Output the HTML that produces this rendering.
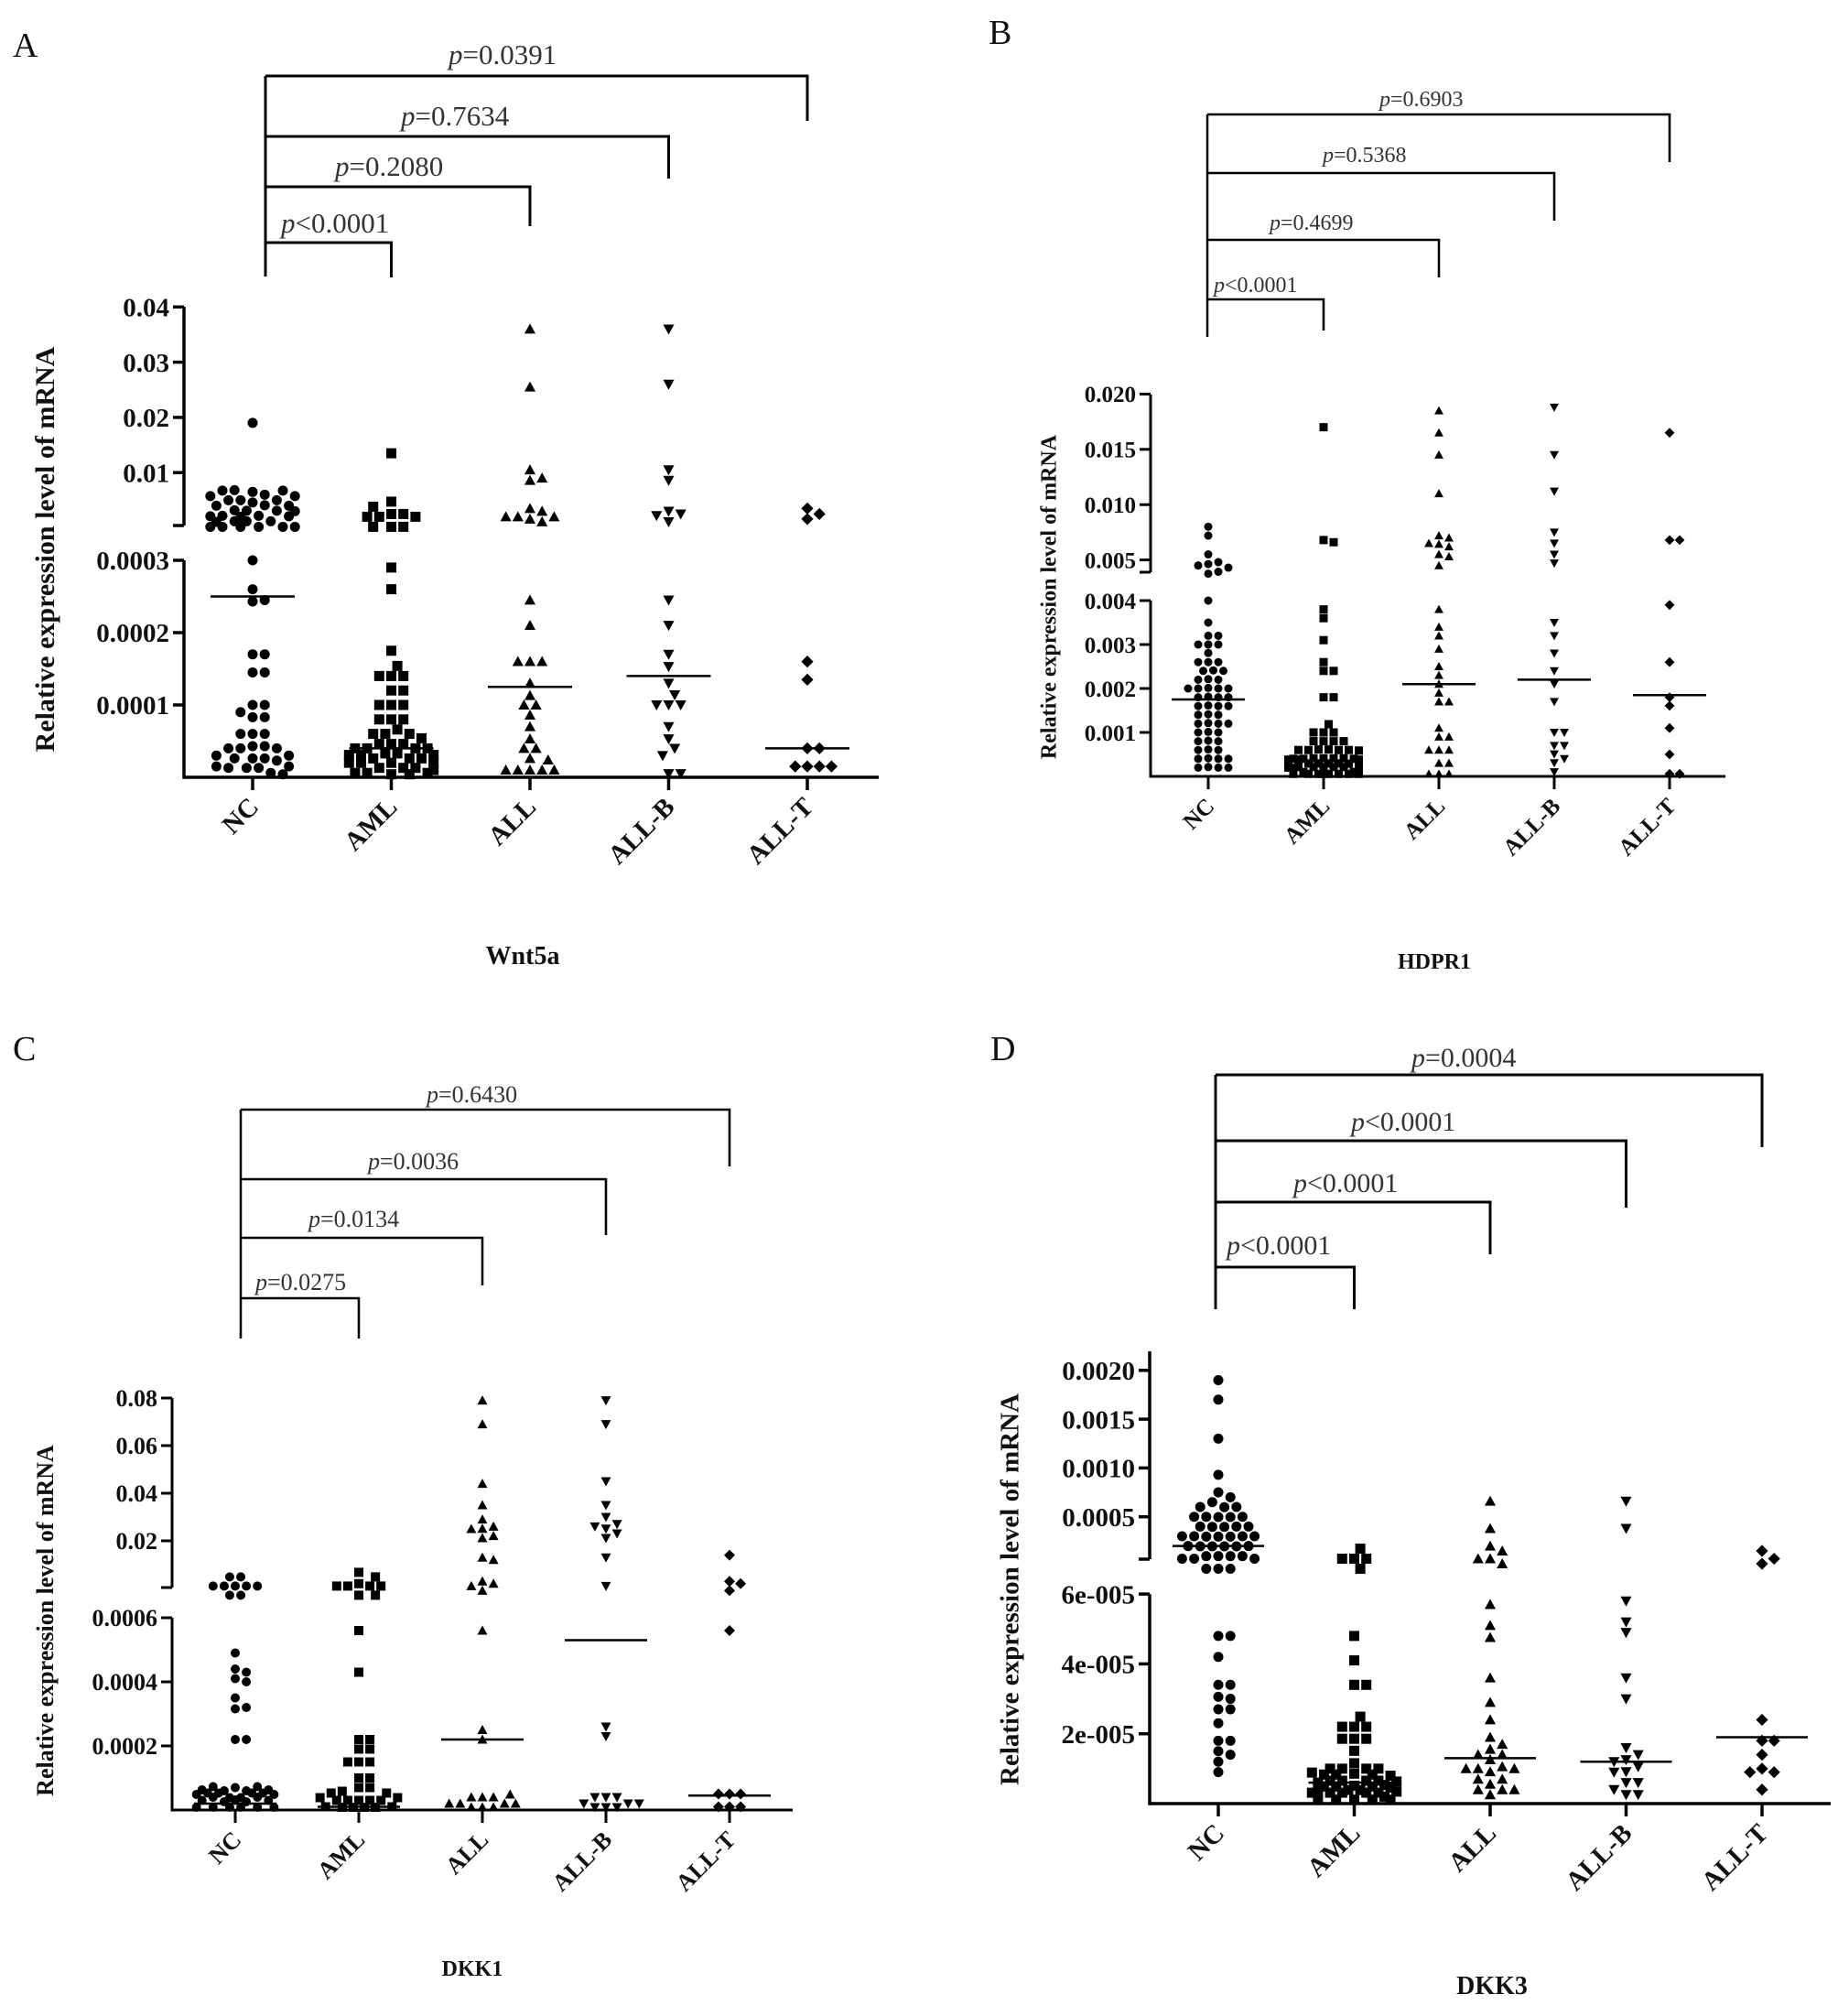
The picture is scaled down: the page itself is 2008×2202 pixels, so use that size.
<!DOCTYPE html>
<html><head><meta charset="utf-8"><title>Expression scatter plots</title>
<style>
html,body{margin:0;padding:0;background:#fff;}
svg{display:block;font-family:"Liberation Serif",serif;}
</style></head>
<body>
<svg id="fig" width="2008" height="2202" viewBox="0 0 2008 2202" xmlns="http://www.w3.org/2000/svg"></svg>
<script>
const categories = ["NC","AML","ALL","ALL-B","ALL-T"];
// Panel A (Wnt5a)
const wntNC = [0.019,0.0065,0.006,0.0055,0.005,0.005,0.005,0.005,0.005,0.005,0.004,0.004,0.004,0.004,0.004,0.004,0.004,0.004,0.003,0.003,0.003,0.003,0.003,0.003,0.003,0.003,0.002,0.002,0.002,0.002,0.002,0.002,0.002,0.002,
  0.0003,0.00026,0.00025,0.000245,0.00017,0.00017,0.000145,0.000145,0.0001,0.0001,0.00009,0.00009,0.00009,0.00006,0.00006,0.00006,0.00005,0.00005,0.00004,0.00004,0.00004,0.00004,0.00004,0.00004,0.00003,0.00003,0.00003,0.00002,0.00002,0.00002,0.00002,0.000015,0.000015,0.000015];
const wntAML = [0.0135,0.0025,0.0025,0.002,0.002,0.002,0.002,0.002,0.002,0.002,0.002,
  0.00029,0.00026,0.000175,0.00014,0.00014,0.00014,0.00014,0.00012,0.00012,0.0001,0.0001,0.0001,0.00008,0.00008,0.00008,0.00008,0.00006,0.00006,0.00006,0.00006,0.00006,0.00006,0.00004,0.00004,0.00004,0.00004,0.00004,0.00004,0.00004,0.00004,0.00004,0.00004,0.00002,0.00002,0.00002,0.00002,0.00002,0.00002,0.00002,0.00002,0.00002,0.00002,0.00001,0.00001,0.00001,0.00001,0.00001,0.00001];
const wntALL = [0.036,0.0255,0.0105,0.0095,0.009,0.0035,0.003,0.0025,0.002,0.002,0.002,0.002,
  0.000245,0.00021,0.00016,0.00016,0.00016,0.00013,0.00012,0.0001,0.0001,0.0001,0.00007,0.00006,0.00004,0.00004,0.00004,0.00001,0.00001,0.00001,0.00001,0.00001,0.00001];
const wntALLB = [0.036,0.026,0.0105,0.0095,0.003,0.0025,0.0022,0.002,
  0.000245,0.00021,0.00017,0.00016,0.00013,0.0001,0.0001,0.0001,0.0001,0.00007,0.00006,0.00004,0.00003,0.000005,0.000005];
const wntALLT = [0.0035,0.0025,0.0025,0.00016,0.000135,0.00004,0.00004,0.000015,0.000015,0.000015,0.000015];
const wntMedians = [0.00025,0.00004,0.000125,0.00014,0.00004];
const wntUpperTicks = [0.01,0.02,0.03,0.04];
const wntUpperLabels = ["0.01","0.02","0.03","0.04"];
const wntLowerTicks = [0.0001,0.0002,0.0003];
const wntLowerLabels = ["0.0001","0.0002","0.0003"];
const wntPvals = ["p<0.0001","p=0.2080","p=0.7634","p=0.0391"];
// Panel B (HDPR1)
const hdNC = [0.008,0.0072,0.0055,0.005,0.0048,0.0045,0.0045,0.0043,0.0043,
  0.004,0.0035,0.0032,0.0032,0.003,0.003,0.003,0.0029,0.0026,0.0026,0.0026,0.0026,0.0024,0.0024,0.0024,0.0022,0.0022,0.0022,0.002,0.002,0.002,0.002,0.002,0.0018,0.0018,0.0018,0.0018,0.0016,0.0016,0.0016,0.0016,0.0014,0.0014,0.0014,0.0012,0.0012,0.0012,0.0012,0.001,0.001,0.001,0.0008,0.0008,0.0008,0.0006,0.0006,0.0006,0.0004,0.0004,0.0004,0.0004,0.0002,0.0002,0.0002];
const hdAML = [0.017,0.0068,0.0066,0.0038,0.0036,0.0031,0.0026,0.0024,0.0024,0.0018,0.0018,0.001,0.001,0.001,0.001,0.0008,0.0008,0.0008,0.0008,0.0008,0.0008,0.0006,0.0006,0.0006,0.0006,0.0006,0.0006,0.0006,0.0006,0.0004,0.0004,0.0004,0.0004,0.0004,0.0004,0.0004,0.0004,0.0004,0.0004,0.0002,0.0002,0.0002,0.0002,0.0002,0.0002,0.0002,0.0002,0.0002,0.0002,0.0002,0.0002,0.0001,0.0001,0.0001,0.0001,0.0001,0.0001,0.0001,0.0001];
const hdALL = [0.0185,0.0165,0.0145,0.011,0.0072,0.007,0.0068,0.0065,0.0062,0.0055,0.0053,0.0045,
  0.0038,0.0034,0.0032,0.0029,0.0025,0.0023,0.0021,0.0019,0.0017,0.0017,0.0011,0.0009,0.0009,0.0006,0.0006,0.0006,0.0003,0.0003,0.00005,0.00005,0.00005];
const hdALLB = [0.0188,0.0145,0.0112,0.0075,0.0065,0.0055,0.0047,
  0.0035,0.0032,0.0028,0.0024,0.0021,0.0017,0.001,0.001,0.0007,0.0007,0.0006,0.0004,0.0004,0.0001];
const hdALLT = [0.0165,0.0068,0.0068,0.0039,0.0026,0.0018,0.0017,0.0011,0.0005,0.00005,0.00005];
const hdMedians = [0.00175,0.00035,0.0021,0.0022,0.00185];
const hdUpperTicks = [0.005,0.010,0.015,0.020];
const hdUpperLabels = ["0.005","0.010","0.015","0.020"];
const hdLowerTicks = [0.001,0.002,0.003,0.004];
const hdLowerLabels = ["0.001","0.002","0.003","0.004"];
const hdPvals = ["p<0.0001","p=0.4699","p=0.5368","p=0.6903"];
// Panel C (DKK1)
const d1NC = [0.001,0.001,0.001,0.001,0.001,0.001,0.001,0.001,0.001,
  0.00049,0.00044,0.00043,0.00041,0.0004,0.00035,0.00033,0.00032,0.00022,0.00022,0.00007,0.00006,0.00006,0.00006,0.00004,0.00004,0.00004,0.00004,0.00003,0.00003,0.00003,0.00003,0.00003,0.00003,0.00002,0.00002,0.00002,0.00002,0.00002,0.00002,0.00002,0.00002,0.00001,0.00001,0.00001,0.00001,0.00001,0.00001];
const d1AML = [0.002,0.001,0.001,0.001,0.001,0.001,0.001,0.001,0.001,
  0.00056,0.00043,0.00022,0.00022,0.00019,0.00019,0.00015,0.00015,0.00015,0.0001,0.0001,0.00007,0.00007,0.00003,0.00003,0.00003,0.00003,0.00003,0.00003,0.00001,0.00001,0.00001,0.00001,0.00001,0.00001,0.00001,0.00001,0.00001,0.00001];
const d1ALL = [0.079,0.069,0.044,0.035,0.029,0.027,0.026,0.025,0.025,0.024,0.013,0.012,0.003,0.002,0.001,0.001,
  0.00056,0.00025,0.00022,0.00004,0.00004,0.00004,0.00002,0.00002,0.00002,0.00002,0.00002,0.00002,0.00002,0.00002];
const d1ALLB = [0.079,0.069,0.045,0.035,0.03,0.027,0.027,0.026,0.025,0.025,0.013,0.001,
  0.00026,0.00023,0.00004,0.00004,0.00004,0.00002,0.00002,0.00002,0.00002,0.00002,0.00002];
const d1ALLT = [0.014,0.003,0.002,0.001,0.00056,0.00005,0.00005,0.00005,0.00001,0.00001,0.00001];
const d1Medians = [0.00002,0.00001,0.00022,0.00053,0.000045];
const d1UpperTicks = [0.02,0.04,0.06,0.08];
const d1UpperLabels = ["0.02","0.04","0.06","0.08"];
const d1LowerTicks = [0.0002,0.0004,0.0006];
const d1LowerLabels = ["0.0002","0.0004","0.0006"];
const d1Pvals = ["p=0.0275","p=0.0134","p=0.0036","p=0.6430"];
// Panel D (DKK3)
const d3NC = [0.0019,0.0017,0.0013,0.00093,0.00075,0.0007,0.00065,0.00065,0.0006,0.0006,0.0006,0.0006,0.0005,0.0005,0.0005,0.0005,0.0005,0.0004,0.0004,0.0004,0.0004,0.0004,0.0004,0.0003,0.0003,0.0003,0.0003,0.0003,0.0003,0.0003,0.0003,0.0002,0.0002,0.0002,0.0002,0.0002,0.0002,0.00007,0.00007,0.00007,0.00007,0.00007,0.00007,
  0.000048,0.000048,0.000042,0.000034,0.000034,0.000032,0.00003,0.000027,0.000027,0.000023,0.000018,0.000018,0.000015,0.000014,0.000012,0.000009];
const d3AML = [0.00007,0.00007,0.00007,0.00007,0.00007,
  0.000048,0.000041,0.000034,0.000034,0.000022,0.000022,0.000022,0.000022,0.00002,0.00002,0.00002,0.000018,0.000013,0.00001,0.00001,0.00001,0.00001,0.00001,0.000008,0.000008,0.000008,0.000008,0.000008,0.000008,0.000006,0.000006,0.000006,0.000006,0.000006,0.000006,0.000006,0.000006,0.000004,0.000004,0.000004,0.000004,0.000004,0.000004,0.000004,0.000004,0.000002,0.000002,0.000002,0.000002,0.000002,0.000002,0.000001,0.000001,0.000001,0.000001];
const d3ALL = [0.00066,0.00038,0.0002,0.00015,0.00007,0.00007,0.00007,
  0.000057,0.000051,0.000049,0.000036,0.000029,0.000024,0.000019,0.000017,0.000017,0.000014,0.000014,0.000014,0.000012,0.000012,0.00001,0.00001,0.00001,0.000007,0.000007,0.000007,0.000004,0.000004,0.000004,0.000004];
const d3ALLB = [0.00066,0.00038,0.000058,0.000052,0.000049,0.000036,0.00003,0.000016,0.000014,0.000014,0.000012,0.000012,0.000012,0.000009,0.000006,0.000006,0.000004,0.000004,0.000004];
const d3ALLT = [0.00015,0.00007,0.00007,0.000024,0.000018,0.000018,0.000014,0.00001,0.000009,0.000009,0.000004];
const d3Medians = [0.0002,0.000006,0.000013,0.000012,0.000019];
const d3UpperTicks = [0.0005,0.0010,0.0015,0.0020];
const d3UpperLabels = ["0.0005","0.0010","0.0015","0.0020"];
const d3LowerTicks = [0.00002,0.00004,0.00006];
const d3LowerLabels = ["2e-005","4e-005","6e-005"];
const d3Pvals = ["p<0.0001","p<0.0001","p<0.0001","p=0.0004"];

const NS = "http://www.w3.org/2000/svg";
const svg = document.getElementById("fig");
function mk(tag, attrs, parent){const e=document.createElementNS(NS,tag);for(const k in attrs)e.setAttribute(k,attrs[k]);(parent||svg).appendChild(e);return e;}

const panels = [
 {id:"a", letter:"A", lx:14, ly:62, title:"Wnt5a", tx:571, ty:1053, titleSize:28,
  groups:[wntNC,wntAML,wntALL,wntALLB,wntALLT], medians:wntMedians,
  ut:wntUpperTicks, ul:wntUpperLabels, lt:wntLowerTicks, ll:wntLowerLabels, pv:wntPvals,
  axX:201, axEnd:960, axY:849, brk:0.001, uy0:576.5, uk:6030, ly0:849, lk:790000, upTop:335, brkY:574,
  cx0:276, cdx:151.5, r:5.5, medHalf:46, tickFont:29, titleX:52, titleY:600, yTitleSize:30, lw:3.5,
  brX:290, brY:[265,204,149,83], brDrop:[303,247,195,132], brTopLeft:302, pSize:31, pX:[307,366,438,490], pY:[254,192,137,70]},
 {id:"b", letter:"B", lx:1080, ly:48, title:"HDPR1", tx:1567, ty:1058, titleSize:24,
  groups:[hdNC,hdAML,hdALL,hdALLB,hdALLT], medians:hdMedians,
  ut:hdUpperTicks, ul:hdUpperLabels, lt:hdLowerTicks, ll:hdLowerLabels, pv:hdPvals,
  axX:1257, axEnd:1885, axY:848, brk:0.0042, uy0:672, uk:12080, ly0:848, lk:48000, upTop:431, brkY:625,
  cx0:1320, cdx:126, r:4.5, medHalf:40, tickFont:25, titleX:1148, titleY:652, yTitleSize:24, lw:3,
  brX:1319, brY:[327,262,189,125], brDrop:[361,303,241,177], brTopLeft:368, pSize:24, pX:[1326,1387,1445,1507], pY:[319,251,177,116]},
 {id:"c", letter:"C", lx:14, ly:1158, title:"DKK1", tx:516, ty:2158, titleSize:24,
  groups:[d1NC,d1AML,d1ALL,d1ALLB,d1ALLT], medians:d1Medians,
  ut:d1UpperTicks, ul:d1UpperLabels, lt:d1LowerTicks, ll:d1LowerLabels, pv:d1Pvals,
  axX:188, axEnd:866, axY:1977, brk:0.0008, uy0:1735, uk:2600, ly0:1977, lk:350000, upTop:1527, brkY:1734,
  cx0:257, cdx:135, r:5, medHalf:45, tickFont:26, titleX:52, titleY:1770, yTitleSize:26, lw:3,
  brX:263, brY:[1418,1352,1288,1212], brDrop:[1462,1404,1349,1274], brTopLeft:1462, pSize:26, pX:[279,337,402,466], pY:[1409,1340,1277,1204]},
 {id:"d", letter:"D", lx:1082, ly:1158, title:"DKK3", tx:1630, ty:2178, titleSize:28,
  groups:[d3NC,d3AML,d3ALL,d3ALLB,d3ALLT], medians:d3Medians,
  ut:d3UpperTicks, ul:d3UpperLabels, lt:d3LowerTicks, ll:d3LowerLabels, pv:d3Pvals,
  axX:1256, axEnd:2000, axY:1970, brk:0.000065, uy0:1710, uk:106600, ly0:1970, lk:3815000, upTop:1476, brkY:1703,
  cx0:1331, cdx:148.5, r:5.5, medHalf:50, tickFont:29, titleX:1106, titleY:1736, yTitleSize:29, lw:3.5,
  brX:1328, brY:[1384,1313,1246,1174], brDrop:[1430,1370,1319,1253], brTopLeft:1430, pSize:30, pX:[1340,1413,1476,1542], pY:[1370,1302,1235,1165]}
];
const shapes = ["circle","square","up","down","diamond"];

function yScale(p, v){ return v >= p.brk ? p.uy0 - v*p.uk : p.ly0 - v*p.lk; }

function marker(g, shape, x, y, r){
  let e;
  if(shape==="circle") e = mk("circle",{cx:x,cy:y,r:r,fill:"#000"},g);
  else if(shape==="square") e = mk("rect",{x:x-r,y:y-r,width:2*r,height:2*r,fill:"#000"},g);
  else if(shape==="up") e = mk("polygon",{points:`${x},${y-r*1.1} ${x+r*1.1},${y+r*0.9} ${x-r*1.1},${y+r*0.9}`,fill:"#000"},g);
  else if(shape==="down") e = mk("polygon",{points:`${x},${y+r*1.1} ${x+r*1.1},${y-r*0.9} ${x-r*1.1},${y-r*0.9}`,fill:"#000"},g);
  else e = mk("polygon",{points:`${x},${y-r*1.2} ${x+r*1.2},${y} ${x},${y+r*1.2} ${x-r*1.2},${y}`,fill:"#000"},g);
  return e;
}

panels.forEach(p=>{
  const g = mk("g",{});
  
  
  const lab = mk("text",{x:p.lx,y:p.ly,"font-size":38,fill:"#111"},g);
  lab.textContent = p.letter;
  
  

  const ax = mk("g",{stroke:"#000","stroke-width":p.lw,fill:"none"},g);
  
  
  mk("line",{x1:p.axX,y1:p.upTop,x2:p.axX,y2:p.brkY},ax);
  mk("line",{x1:p.axX-12,y1:p.brkY,x2:p.axX,y2:p.brkY},ax);
  const lowTop = yScale(p, p.lt[p.lt.length-1]);
  mk("line",{x1:p.axX,y1:lowTop,x2:p.axX,y2:p.axY+p.lw/2},ax);
  const xax = mk("line",{x1:p.axX,y1:p.axY,x2:p.axEnd,y2:p.axY,stroke:"#000","stroke-width":p.lw},g);
  
  

  const tickLabel=(v,txt)=>{
    const y = yScale(p,v);
    mk("line",{x1:p.axX-12,y1:y,x2:p.axX,y2:y,stroke:"#000","stroke-width":p.lw},g);
    const t = mk("text",{x:p.axX-16,y:y+p.tickFont*0.35,"text-anchor":"end","font-size":p.tickFont,"font-weight":"bold",fill:"#111"},g);
    t.textContent = txt;
    
    
  };
  p.ut.forEach((v,i)=>tickLabel(v,p.ul[i]));
  p.lt.forEach((v,i)=>tickLabel(v,p.ll[i]));

  const yt = mk("text",{x:p.titleX,y:p.titleY,"text-anchor":"middle","font-size":p.yTitleSize,"font-weight":"bold",fill:"#111",transform:`rotate(-90 ${p.titleX} ${p.titleY})`,"dominant-baseline":"middle"},g);
  yt.textContent = "Relative expression level of mRNA";
  
  

  const xt = mk("text",{x:p.tx,y:p.ty,"text-anchor":"middle","font-size":p.titleSize,"font-weight":"bold",fill:"#111"},g);
  xt.textContent = p.title;
  
  

  categories.forEach((c,ci)=>{
    const cx = p.cx0 + ci*p.cdx;
    mk("line",{x1:cx,y1:p.axY,x2:cx,y2:p.axY+14,stroke:"#000","stroke-width":p.lw},g);
    const tx = cx+8, ty = p.axY+34;
    const t = mk("text",{x:tx,y:ty,"text-anchor":"end","font-size":p.tickFont,"font-weight":"bold",fill:"#111",transform:`rotate(-45 ${tx} ${ty})`},g);
    t.textContent = c;
    
    

    // compact beeswarm placement, limited width, vertical nudges allowed
    const vals = p.groups[ci].slice().sort((a,b)=>b-a);
    const placed = [];
    const gg = mk("g",{},g);
    
    
    const d = 2*p.r+1;
    const maxHalf = p.medHalf*1.05;
    const cands = [];
    for(let dx=0; dx<=maxHalf; dx+=d*0.55){
      for(const sx of (dx===0?[0]:[1,-1])){
        for(const dy of [0,-p.r,p.r,-2*p.r,2*p.r,-3*p.r]){
          cands.push([sx*dx,dy]);
        }
      }
    }
    cands.sort((a,b)=>(Math.abs(a[0])+Math.abs(a[1])*1.6)-(Math.abs(b[0])+Math.abs(b[1])*1.6));
    vals.forEach(v=>{
      const y0 = yScale(p,v);
      let best=null, bestD=-1;
      for(const cd of cands){
        const yy = Math.min(y0+cd[1], p.axY-p.r*0.6);
        let md = Infinity;
        for(const q of placed){ md=Math.min(md,Math.hypot(q[0]-cd[0],q[1]-yy)); }
        if(md>=d*0.92){best=[cd[0],yy];break;}
        if(md>bestD){bestD=md;best=[cd[0],yy];}
      }
      placed.push(best);
      const m = marker(gg, shapes[ci], cx+best[0], best[1], p.r);
      
      
    });
    const my = yScale(p,p.medians[ci]);
    const ml = mk("line",{x1:cx-p.medHalf,y1:my,x2:cx+p.medHalf,y2:my,stroke:"#000","stroke-width":2.5},g);
    
    
  });

  const bg = mk("g",{stroke:"#000","stroke-width":p.lw*0.85,fill:"none"},g);
  
  
  mk("line",{x1:p.brX,y1:p.brY[3],x2:p.brX,y2:p.brTopLeft},bg);
  for(let i=0;i<4;i++){
    const rx = p.cx0 + (i+1)*p.cdx;
    mk("polyline",{points:`${p.brX},${p.brY[i]} ${rx},${p.brY[i]} ${rx},${p.brDrop[i]}`},bg);
    const t = mk("text",{x:p.pX[i],y:p.pY[i],"font-size":p.pSize,fill:"#333"},g);
    const s = p.pv[i];
    const it = mk("tspan",{"font-style":"italic"},t); it.textContent = s[0];
    const rest = mk("tspan",{},t); rest.textContent = s.slice(1);
    
    
  }
});
</script>
</body></html>
